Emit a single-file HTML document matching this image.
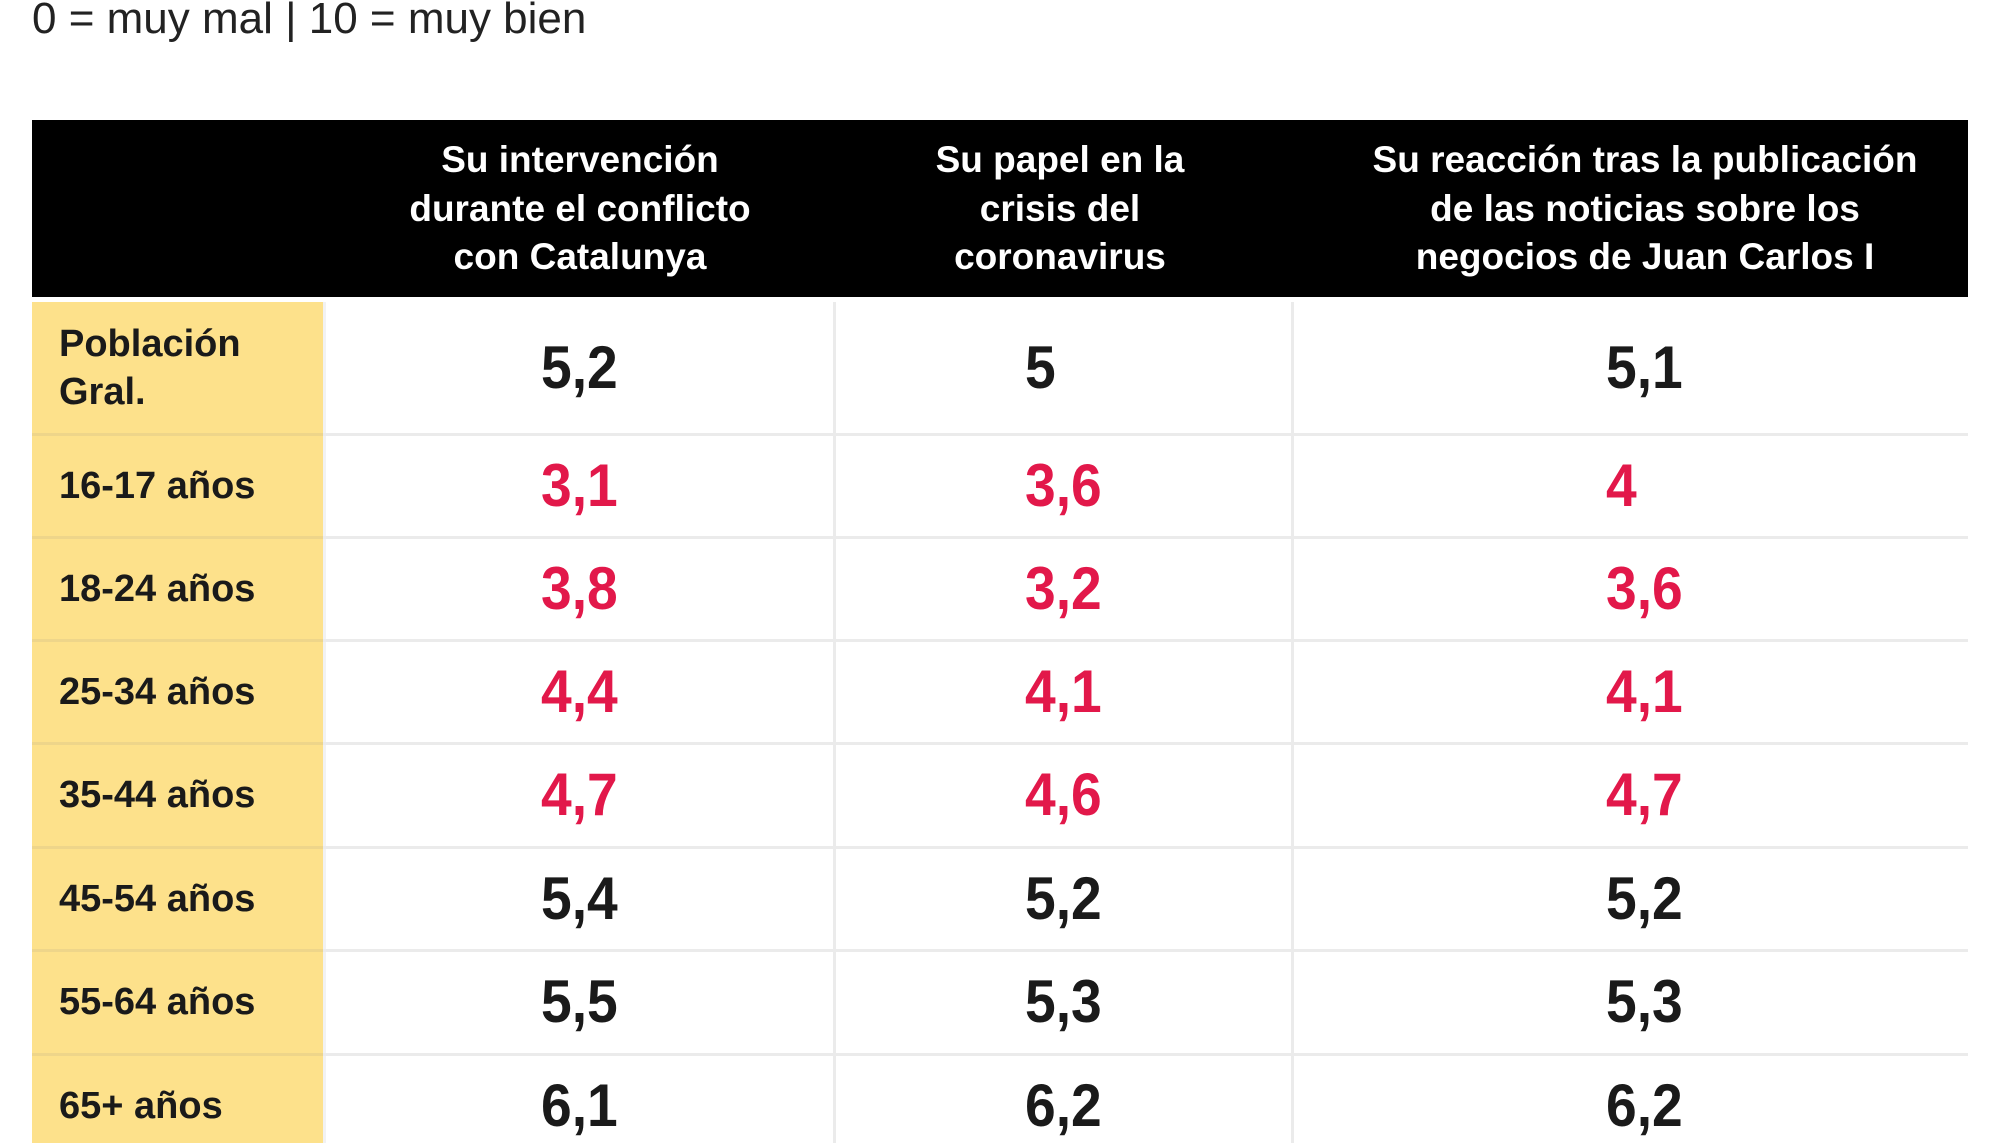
<!DOCTYPE html>
<html><head><meta charset="utf-8"><style>
html,body{margin:0;padding:0;background:#fff;width:2000px;height:1143px;overflow:hidden;font-family:"Liberation Sans",sans-serif;}
.sub{position:absolute;left:32px;top:-6px;font-family:"Liberation Sans",sans-serif;font-size:44px;color:#222;letter-spacing:0px;}
.hdr{position:absolute;left:32px;top:120px;width:1936px;height:177px;background:#000;}
.h{position:absolute;top:136px;color:#fff;font-weight:bold;font-size:37px;line-height:48.5px;text-align:center;}
.y{position:absolute;left:32px;width:291px;background:#fde18b;}
.lab{position:absolute;left:59px;font-weight:bold;font-size:38px;color:#1a1a1a;line-height:48px;}
.hl{position:absolute;left:323px;width:1645px;height:3px;background:#ebebeb;}
.yl{position:absolute;left:32px;width:291px;height:3px;background:#eed58a;}
.vl{position:absolute;top:302px;width:3px;height:841px;background:#ebebeb;}
.n{position:absolute;font-weight:bold;font-size:60px;color:#1a1a1a;line-height:60px;transform:scaleX(0.92);transform-origin:left center;}
.r{color:#e2184a;}
</style></head><body>
<div class="sub">0 = muy mal | 10 = muy bien</div>
<div class="hdr"></div>
<div class="h" style="left:380px;width:400px;">Su intervención<br>durante el conflicto<br>con Catalunya</div>
<div class="h" style="left:860px;width:400px;">Su papel en la<br>crisis del<br>coronavirus</div>
<div class="h" style="left:1320px;width:650px;">Su reacción tras la publicación<br>de las noticias sobre los<br>negocios de Juan Carlos I</div>
<div class="y" style="top:302px;height:841px;"></div>
<div class="vl" style="left:323px;background:#f2f2f2"></div>
<div class="vl" style="left:833px"></div>
<div class="vl" style="left:1291px"></div>
<div class="hl" style="top:433px"></div><div class="yl" style="top:433px"></div>
<div class="hl" style="top:536px"></div><div class="yl" style="top:536px"></div>
<div class="hl" style="top:639px"></div><div class="yl" style="top:639px"></div>
<div class="hl" style="top:742px"></div><div class="yl" style="top:742px"></div>
<div class="hl" style="top:846px"></div><div class="yl" style="top:846px"></div>
<div class="hl" style="top:949px"></div><div class="yl" style="top:949px"></div>
<div class="hl" style="top:1053px"></div><div class="yl" style="top:1053px"></div>

<div class="lab" style="top:320px">Población<br>Gral.</div>
<div class="lab" style="top:462px">16-17 años</div>
<div class="lab" style="top:565px">18-24 años</div>
<div class="lab" style="top:668px">25-34 años</div>
<div class="lab" style="top:771px">35-44 años</div>
<div class="lab" style="top:875px">45-54 años</div>
<div class="lab" style="top:978px">55-64 años</div>
<div class="lab" style="top:1082px">65+ años</div>

<div class="n" style="left:541px;top:338px">5,2</div>
<div class="n" style="left:1025px;top:338px">5</div>
<div class="n" style="left:1606px;top:338px">5,1</div>

<div class="n r" style="left:541px;top:456px">3,1</div>
<div class="n r" style="left:1025px;top:456px">3,6</div>
<div class="n r" style="left:1606px;top:456px">4</div>

<div class="n r" style="left:541px;top:559px">3,8</div>
<div class="n r" style="left:1025px;top:559px">3,2</div>
<div class="n r" style="left:1606px;top:559px">3,6</div>

<div class="n r" style="left:541px;top:662px">4,4</div>
<div class="n r" style="left:1025px;top:662px">4,1</div>
<div class="n r" style="left:1606px;top:662px">4,1</div>

<div class="n r" style="left:541px;top:765px">4,7</div>
<div class="n r" style="left:1025px;top:765px">4,6</div>
<div class="n r" style="left:1606px;top:765px">4,7</div>

<div class="n" style="left:541px;top:869px">5,4</div>
<div class="n" style="left:1025px;top:869px">5,2</div>
<div class="n" style="left:1606px;top:869px">5,2</div>

<div class="n" style="left:541px;top:972px">5,5</div>
<div class="n" style="left:1025px;top:972px">5,3</div>
<div class="n" style="left:1606px;top:972px">5,3</div>

<div class="n" style="left:541px;top:1076px">6,1</div>
<div class="n" style="left:1025px;top:1076px">6,2</div>
<div class="n" style="left:1606px;top:1076px">6,2</div>
</body></html>
